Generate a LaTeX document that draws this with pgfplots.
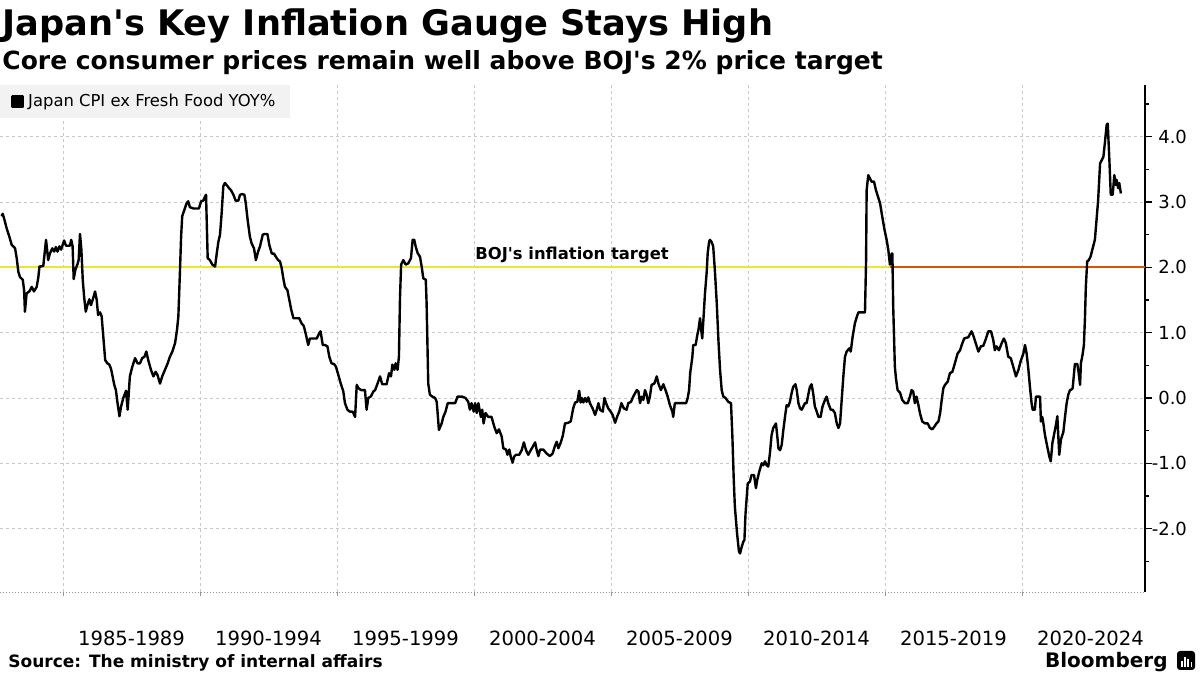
\documentclass[border=0pt]{standalone}
\usepackage{pgfplots}
\pgfplotsset{compat=1.18}
\usepackage{pgfplotstable}
\usepackage{fontspec}
\setmainfont{DejaVu Sans}
\usetikzlibrary{arrows.meta}
\definecolor{gridc}{RGB}{200,200,200}
\definecolor{tyellow}{RGB}{232,232,50}
\definecolor{torange}{RGB}{215,85,0}
\definecolor{leggray}{RGB}{242,242,242}
\definecolor{axgray}{RGB}{150,150,150}

\pgfplotstableread{
year value
1982.76 2.78
1982.80 2.82
1982.88 2.70
1982.94 2.60
1983.04 2.47
1983.13 2.34
1983.21 2.31
1983.25 2.29
1983.31 2.14
1983.37 1.93
1983.43 1.85
1983.53 1.81
1983.58 1.65
1983.61 1.32
1983.67 1.60
1983.77 1.63
1983.86 1.70
1983.94 1.63
1984.04 1.70
1984.10 1.85
1984.14 2.01
1984.28 2.02
1984.38 2.42
1984.46 2.11
1984.52 2.21
1984.61 2.29
1984.68 2.24
1984.74 2.31
1984.80 2.24
1984.87 2.32
1984.93 2.27
1985.04 2.41
1985.11 2.33
1985.25 2.33
1985.30 2.42
1985.35 2.32
1985.39 1.82
1985.45 1.96
1985.53 2.05
1985.57 2.11
1985.62 2.51
1985.67 2.27
1985.72 1.81
1985.77 1.55
1985.83 1.32
1985.89 1.42
1985.96 1.51
1986.02 1.42
1986.11 1.54
1986.17 1.63
1986.23 1.50
1986.28 1.27
1986.35 1.31
1986.41 1.25
1986.47 0.94
1986.54 0.58
1986.62 0.53
1986.69 0.51
1986.75 0.45
1986.81 0.33
1986.87 0.20
1986.93 0.12
1986.99 -0.08
1987.06 -0.28
1987.12 -0.13
1987.20 0.00
1987.30 0.11
1987.36 -0.18
1987.44 0.33
1987.53 0.48
1987.63 0.61
1987.72 0.53
1987.81 0.53
1987.89 0.61
1987.97 0.63
1988.04 0.71
1988.11 0.58
1988.21 0.43
1988.30 0.33
1988.38 0.40
1988.45 0.35
1988.54 0.22
1988.62 0.33
1988.72 0.43
1988.82 0.53
1988.90 0.63
1988.99 0.71
1989.09 0.84
1989.16 1.04
1989.21 1.25
1989.27 1.96
1989.31 2.47
1989.35 2.78
1989.43 2.88
1989.51 2.98
1989.57 3.01
1989.63 2.92
1989.76 2.90
1989.88 2.90
1989.96 2.90
1990.04 3.01
1990.12 3.02
1990.18 3.08
1990.22 3.11
1990.28 2.14
1990.36 2.11
1990.45 2.04
1990.55 2.01
1990.61 2.21
1990.67 2.39
1990.73 2.50
1990.79 2.83
1990.85 3.24
1990.91 3.29
1990.97 3.26
1991.06 3.21
1991.13 3.18
1991.22 3.11
1991.30 3.02
1991.40 3.02
1991.46 3.11
1991.54 3.12
1991.62 3.11
1991.67 2.98
1991.74 2.72
1991.82 2.47
1991.88 2.37
1991.97 2.29
1992.04 2.11
1992.12 2.24
1992.19 2.32
1992.29 2.50
1992.37 2.51
1992.46 2.51
1992.53 2.34
1992.62 2.21
1992.70 2.21
1992.77 2.16
1992.85 2.11
1992.92 2.09
1992.98 1.99
1993.04 1.83
1993.10 1.70
1993.19 1.65
1993.26 1.50
1993.33 1.35
1993.41 1.22
1993.50 1.22
1993.62 1.22
1993.71 1.14
1993.79 1.10
1993.87 0.96
1993.95 0.81
1994.01 0.91
1994.11 0.91
1994.26 0.91
1994.35 0.99
1994.40 1.02
1994.48 0.81
1994.56 0.81
1994.65 0.79
1994.72 0.63
1994.80 0.53
1994.89 0.52
1994.96 0.48
1995.05 0.35
1995.13 0.23
1995.23 0.10
1995.29 -0.08
1995.38 -0.18
1995.47 -0.21
1995.57 -0.21
1995.66 -0.29
1995.72 0.20
1995.78 0.15
1995.88 0.12
1995.96 0.12
1996.02 0.12
1996.08 -0.18
1996.14 0.00
1996.23 0.02
1996.33 0.10
1996.39 0.12
1996.48 0.22
1996.57 0.33
1996.65 0.21
1996.81 0.21
1996.90 0.38
1996.97 0.33
1997.02 0.51
1997.09 0.43
1997.14 0.53
1997.21 0.43
1997.26 0.63
1997.30 1.55
1997.34 2.04
1997.42 2.11
1997.51 2.04
1997.60 2.06
1997.70 2.14
1997.76 2.42
1997.82 2.42
1997.87 2.32
1997.94 2.22
1998.03 2.16
1998.09 2.01
1998.15 1.83
1998.24 1.81
1998.27 1.45
1998.33 0.22
1998.39 0.05
1998.48 0.02
1998.58 0.00
1998.64 -0.06
1998.72 -0.49
1998.82 -0.39
1998.88 -0.29
1998.96 -0.21
1999.04 -0.08
1999.12 -0.08
1999.31 -0.08
1999.40 0.02
1999.57 0.02
1999.69 0.00
1999.79 -0.06
1999.85 -0.18
1999.91 -0.08
1999.99 -0.21
2000.04 -0.08
2000.10 -0.23
2000.16 -0.08
2000.25 -0.29
2000.30 -0.18
2000.35 -0.39
2000.42 -0.23
2000.52 -0.29
2000.64 -0.29
2000.74 -0.44
2000.83 -0.54
2000.91 -0.48
2001.01 -0.59
2001.07 -0.77
2001.17 -0.79
2001.22 -0.87
2001.29 -0.79
2001.34 -0.90
2001.41 -0.99
2001.46 -0.90
2001.53 -0.87
2001.65 -0.87
2001.74 -0.80
2001.82 -0.68
2001.90 -0.80
2001.98 -0.87
2002.07 -0.80
2002.14 -0.75
2002.23 -0.68
2002.29 -0.80
2002.35 -0.89
2002.41 -0.79
2002.53 -0.79
2002.65 -0.85
2002.77 -0.89
2002.87 -0.85
2002.95 -0.74
2003.02 -0.67
2003.08 -0.77
2003.16 -0.69
2003.24 -0.58
2003.32 -0.39
2003.44 -0.38
2003.53 -0.36
2003.62 -0.16
2003.69 -0.07
2003.77 -0.06
2003.84 0.11
2003.89 -0.07
2003.93 0.00
2003.99 -0.07
2004.05 0.00
2004.11 -0.06
2004.17 0.01
2004.23 -0.08
2004.33 -0.16
2004.42 -0.26
2004.48 -0.18
2004.54 -0.08
2004.60 -0.18
2004.70 -0.21
2004.76 0.00
2004.82 -0.08
2004.90 -0.16
2004.99 -0.21
2005.06 -0.26
2005.15 -0.38
2005.23 -0.28
2005.30 -0.21
2005.38 -0.08
2005.47 -0.16
2005.57 -0.18
2005.63 -0.08
2005.73 -0.06
2005.81 0.02
2005.94 0.12
2006.00 0.10
2006.06 -0.08
2006.12 0.02
2006.18 -0.03
2006.24 0.12
2006.30 0.05
2006.36 -0.08
2006.42 0.02
2006.48 0.20
2006.58 0.22
2006.67 0.33
2006.73 0.22
2006.82 0.12
2006.91 0.21
2006.99 0.12
2007.07 0.02
2007.15 -0.11
2007.24 -0.21
2007.27 -0.29
2007.33 -0.08
2007.46 -0.08
2007.58 -0.08
2007.74 -0.08
2007.80 0.00
2007.85 0.12
2007.89 0.38
2007.97 0.63
2008.00 0.81
2008.09 0.81
2008.14 0.94
2008.19 1.04
2008.25 1.22
2008.28 1.09
2008.33 0.91
2008.38 1.25
2008.43 1.60
2008.49 1.91
2008.53 2.22
2008.58 2.39
2008.61 2.42
2008.67 2.39
2008.73 2.32
2008.79 1.96
2008.86 1.45
2008.92 0.89
2008.98 0.43
2009.04 0.12
2009.10 0.02
2009.18 0.00
2009.28 -0.06
2009.38 -0.08
2009.43 -0.59
2009.48 -1.25
2009.52 -1.66
2009.60 -2.07
2009.67 -2.35
2009.71 -2.38
2009.77 -2.28
2009.83 -2.20
2009.87 -2.17
2009.91 -1.77
2009.99 -1.31
2010.07 -1.28
2010.13 -1.18
2010.22 -1.18
2010.29 -1.38
2010.34 -1.25
2010.41 -1.13
2010.50 -1.00
2010.56 -1.03
2010.62 -0.97
2010.68 -1.03
2010.74 -1.05
2010.80 -0.85
2010.86 -0.57
2010.92 -0.46
2011.02 -0.39
2011.07 -0.59
2011.11 -0.77
2011.17 -0.80
2011.23 -0.72
2011.29 -0.49
2011.35 -0.29
2011.41 -0.11
2011.47 -0.13
2011.53 -0.06
2011.59 0.07
2011.65 0.17
2011.73 0.21
2011.78 0.12
2011.84 -0.08
2011.90 -0.16
2011.96 -0.18
2012.02 -0.13
2012.08 -0.08
2012.14 -0.08
2012.20 0.05
2012.26 0.17
2012.32 0.21
2012.38 0.07
2012.44 -0.13
2012.51 -0.21
2012.57 -0.29
2012.65 -0.29
2012.72 -0.13
2012.81 -0.03
2012.87 0.02
2012.93 -0.08
2013.02 -0.18
2013.09 -0.18
2013.17 -0.23
2013.24 -0.39
2013.30 -0.46
2013.36 -0.39
2013.42 -0.03
2013.48 0.33
2013.54 0.63
2013.60 0.71
2013.70 0.76
2013.75 0.71
2013.82 0.94
2013.90 1.14
2013.97 1.24
2014.03 1.31
2014.15 1.31
2014.27 1.31
2014.31 2.11
2014.33 3.18
2014.39 3.41
2014.45 3.36
2014.51 3.31
2014.60 3.31
2014.67 3.18
2014.76 3.06
2014.82 2.98
2014.89 2.80
2014.98 2.58
2015.06 2.42
2015.12 2.27
2015.18 2.04
2015.24 2.21
2015.27 2.21
2015.30 1.40
2015.36 0.48
2015.40 0.30
2015.46 0.12
2015.55 0.08
2015.63 -0.03
2015.73 -0.08
2015.83 -0.08
2015.91 0.02
2015.97 0.12
2016.03 0.10
2016.09 -0.08
2016.15 0.02
2016.22 -0.11
2016.28 -0.24
2016.36 -0.36
2016.46 -0.39
2016.56 -0.39
2016.64 -0.46
2016.73 -0.48
2016.80 -0.44
2016.88 -0.39
2016.95 -0.36
2017.01 -0.24
2017.07 -0.03
2017.13 0.15
2017.19 0.20
2017.29 0.25
2017.37 0.38
2017.46 0.40
2017.55 0.53
2017.65 0.68
2017.74 0.73
2017.80 0.81
2017.89 0.91
2018.04 0.93
2018.16 1.02
2018.22 0.96
2018.31 0.84
2018.41 0.71
2018.50 0.79
2018.59 0.80
2018.67 0.89
2018.77 1.02
2018.87 1.02
2018.95 0.89
2019.01 0.73
2019.07 0.79
2019.16 0.73
2019.26 0.84
2019.34 0.91
2019.41 0.84
2019.50 0.63
2019.59 0.61
2019.68 0.48
2019.78 0.33
2019.87 0.43
2019.95 0.56
2020.05 0.68
2020.11 0.81
2020.17 0.68
2020.23 0.45
2020.29 0.17
2020.35 -0.08
2020.39 -0.18
2020.47 -0.18
2020.51 0.02
2020.60 0.02
2020.66 0.02
2020.69 -0.36
2020.74 -0.29
2020.78 -0.39
2020.84 -0.57
2020.92 -0.74
2021.00 -0.90
2021.05 -0.97
2021.11 -0.69
2021.18 -0.54
2021.24 -0.41
2021.29 -0.28
2021.32 -0.54
2021.36 -0.87
2021.42 -0.64
2021.51 -0.52
2021.57 -0.29
2021.63 -0.08
2021.69 0.05
2021.75 0.12
2021.81 0.13
2021.85 0.15
2021.90 0.38
2021.93 0.52
2022.02 0.52
2022.07 0.38
2022.12 0.20
2022.15 0.53
2022.21 0.66
2022.26 0.81
2022.30 1.24
2022.33 1.70
2022.38 2.09
2022.44 2.11
2022.50 2.16
2022.58 2.29
2022.66 2.42
2022.72 2.72
2022.78 3.03
2022.85 3.59
2022.91 3.64
2022.97 3.69
2023.03 3.92
2023.09 4.18
2023.13 4.20
2023.19 3.64
2023.24 3.11
2023.31 3.11
2023.37 3.41
2023.42 3.26
2023.45 3.34
2023.51 3.21
2023.55 3.29
2023.61 3.13
}\cpidata

\begin{document}
\begin{tikzpicture}
\path[use as bounding box] (0pt,0pt) rectangle (600pt,337.5pt);
\begin{axis}[
  at={(0pt,41.5pt)}, anchor=south west,
  scale only axis, width=572.5pt, height=253.5pt,
  xmin=1982.70, xmax=2024.49, ymin=-2.97, ymax=4.79,
  axis x line*=bottom, axis y line*=right,
  x axis line style={draw=axgray, dash pattern=on 0.6pt off 0.9pt},
  y axis line style={black, line width=0.7pt},
  xtick={1987.5,1992.5,1997.5,2002.5,2007.5,2012.5,2017.5,2022.5},
  xticklabels={1985-1989,1990-1994,1995-1999,2000-2004,2005-2009,2010-2014,2015-2019,2020-2024},
  major x tick style={draw=none},
  minor xtick={1985,1990,1995,2000,2005,2010,2015,2020},
  minor x tick style={axgray},
  xminorgrids=true,
  ytick={-2,-1,0,1,2,3,4},
  minor ytick={-2.5,-1.5,-0.5,0.5,1.5,2.5,3.5,4.5},
  ymajorgrids=true,
  major grid style={gridc, dash pattern=on 1.5pt off 1.5pt, line width=0.4pt},
  minor grid style={gridc, dash pattern=on 1.5pt off 1.5pt, line width=0.4pt},
  tick align=outside,
  major tick length=3.5pt, minor tick length=2pt,
  y tick style={black, line width=0.6pt},
  yticklabel={\pgfmathprintnumber[fixed,fixed zerofill,precision=1,assume math mode=true]{\tick}},
  yticklabel style={font=\fontsize{9}{10}\selectfont, anchor=east, xshift=21pt},
  xticklabel style={font=\fontsize{9.8}{11}\selectfont, yshift=-12.5pt},
  legend style={at={(0,1)}, anchor=north west, draw=none, fill=leggray,
    font=\fontsize{8.2}{10}\selectfont, inner xsep=5.5pt, inner ysep=2.2pt},
  legend cell align=left,
  legend image code/.code={\fill[black] (0pt,-2.6pt) rectangle (5.2pt,2.6pt);},
  clip=false,
]
\addplot[tyellow, line width=0.8pt, forget plot] coordinates {(1982.70,2) (2015.18,2)};
\addplot[torange, line width=0.8pt, forget plot] coordinates {(2015.18,2) (2024.49,2)};
\addplot[black, line width=1.2pt, line join=round] table[x=year,y=value] {\cpidata};
\addlegendentry{Japan CPI ex Fresh Food YOY\%}
\node[anchor=base, inner sep=0pt, font=\bfseries\fontsize{8.2}{10}\selectfont] at (axis cs:2003.58,2.12) {BOJ\textquotesingle s inflation target};
\end{axis}
\node[anchor=base west, inner sep=0pt, font=\bfseries\fontsize{17.6}{20}\selectfont] at (1pt,319.5pt) {Japan\textquotesingle s Key Inflation Gauge Stays High};
\node[anchor=base west, inner sep=0pt, font=\bfseries\fontsize{12.5}{15}\selectfont] at (1pt,302.8pt) {Core consumer prices remain well above BOJ\textquotesingle s 2\% price target};
\node[anchor=base west, inner sep=0pt, font=\bfseries\fontsize{8.5}{10}\selectfont] at (4pt,3.8pt) {Source: The ministry of internal affairs};
\node[anchor=base east, inner sep=0pt, font=\bfseries\fontsize{10}{12}\selectfont] at (584pt,3.8pt) {Bloomberg};
\fill[black, rounded corners=1.5pt] (588.5pt,2.5pt) rectangle (597.5pt,12pt);
\fill[white] (590.3pt,4.2pt) rectangle (591.3pt,7pt);
\fill[white] (592.0pt,4.2pt) rectangle (593.0pt,9pt);
\fill[white] (593.7pt,4.2pt) rectangle (594.7pt,8pt);
\fill[white] (595.4pt,4.2pt) rectangle (596.2pt,6.5pt);
\end{tikzpicture}
\end{document}
